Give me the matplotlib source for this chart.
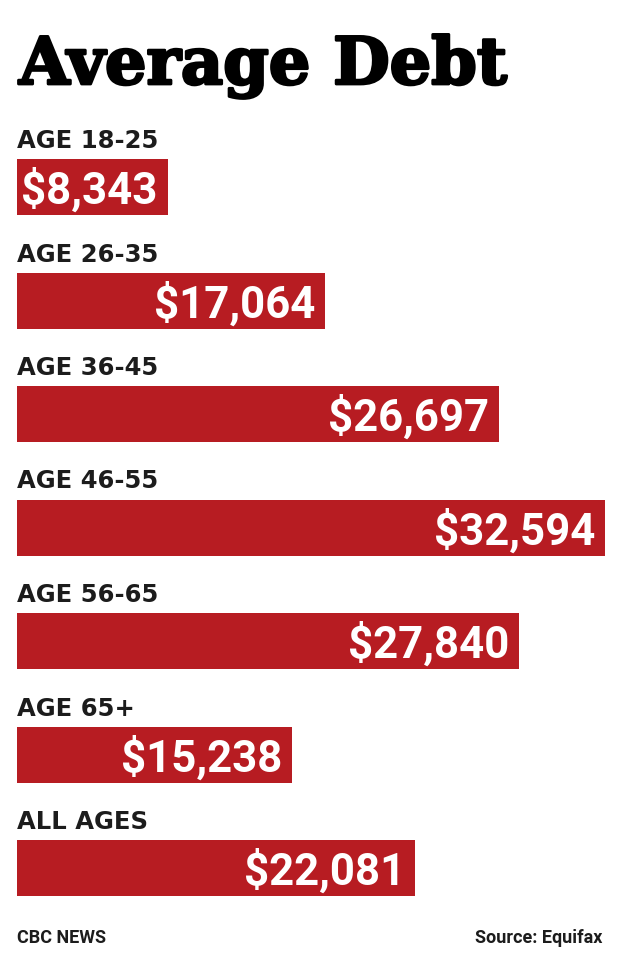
import matplotlib.pyplot as plt
import matplotlib.patheffects as pe

# Data
labels = ['AGE 18-25', 'AGE 26-35', 'AGE 36-45', 'AGE 46-55', 'AGE 56-65', 'AGE 65+', 'ALL AGES']
values = [8343, 17064, 26697, 32594, 27840, 15238, 22081]
value_text = ['$8,343', '$17,064', '$26,697', '$32,594', '$27,840', '$15,238', '$22,081']

W, H = 620, 973
RED = '#b71c22'
DARK = '#1c1c1c'

fig = plt.figure(figsize=(W / 100, H / 100), dpi=100)
fig.patch.set_facecolor('white')

# axes placed in pixel terms: x=0 at px 17, max value at px 605
step = 113.5
c0 = 187
top_px = c0 - step
bot_px = c0 + 6.5 * step
ax = fig.add_axes([17 / W, 1 - bot_px / H, 588 / W, (bot_px - top_px) / H])
ax.set_xlim(0, max(values))
ax.set_ylim(6.5, -1)
ax.axis('off')

ypos = list(range(len(labels)))
bar_h = 56 / step
ax.barh(ypos, values, height=bar_h, color=RED, left=0)

for i, (lab, v, vt) in enumerate(zip(labels, values, value_text)):
    ax.text(0, i - bar_h / 2 - 11 / step, lab, ha='left', va='baseline',
            fontsize=17.5, fontweight='bold', family='DejaVu Sans', color=DARK)
    ax.annotate(vt, xy=(v, i + 17 / step), xytext=(-7, 0), textcoords='offset points',
                ha='right', va='baseline', fontsize=31.5, fontweight='bold',
                family='Roboto', color='white')

# title
fig.text(19 / W, 1 - 84 / H, 'Average Debt', ha='left', va='baseline',
         fontsize=47, fontweight='bold', family='DejaVu Serif', color='black',
         path_effects=[pe.withStroke(linewidth=2, foreground='black')])

# footer
fig.text(17 / W, 1 - 943 / H, 'CBC NEWS', ha='left', va='baseline',
         fontsize=13, fontweight='bold', family='Roboto', color=DARK)
fig.text(602 / W, 1 - 943 / H, 'Source: Equifax', ha='right', va='baseline',
         fontsize=13, fontweight='bold', family='Roboto', color=DARK)

fig.savefig('out.png', dpi=100, facecolor='white')
